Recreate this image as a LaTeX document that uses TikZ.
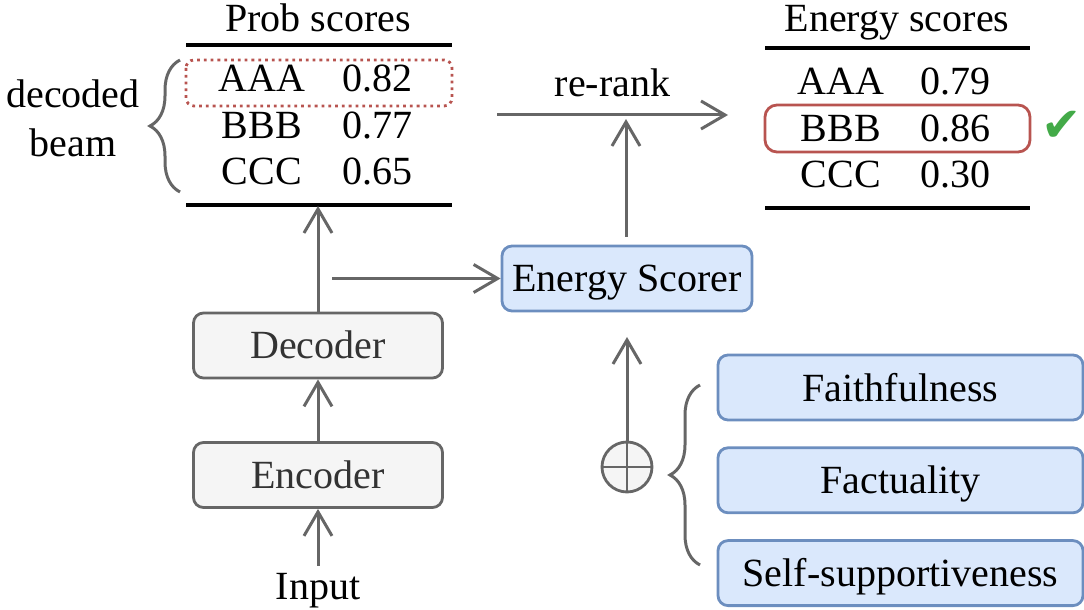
\documentclass[tikz,border=0pt]{standalone}
\usepackage{fontspec}
\setmainfont{Liberation Serif}
\newfontfamily\symfont{DejaVu Sans}
\usepackage{tikz}
\usetikzlibrary{arrows.meta,positioning,decorations.pathreplacing}
\definecolor{linegray}{HTML}{666666}
\definecolor{boxblue}{HTML}{DAE8FC}
\definecolor{edgeblue}{HTML}{6C8EBF}
\definecolor{boxgray}{HTML}{F5F5F5}
\definecolor{markred}{HTML}{B85450}
\definecolor{checkgreen}{RGB}{67,170,72}

\begin{document}
\begin{tikzpicture}[x=0.5pt, y=0.5pt, font=\fontsize{20}{24}\selectfont,
		flow/.style={draw=linegray, line width=1.5pt, -{Straight Barb[length=12pt,width=14pt]}},
		cell/.style={inner sep=0pt, text height=13.5pt, text depth=0pt},
		grayblock/.style={draw=linegray, fill=boxgray, line width=1.4pt, rounded corners=5pt,
			minimum width=124.5pt, minimum height=32.5pt, text height=13.5pt, text depth=0pt, text=black!80},
		blueblock/.style={draw=edgeblue, fill=boxblue, line width=1.4pt, rounded corners=5pt,
			minimum height=32.5pt, text height=13.5pt, text depth=0pt},
		rule/.style={line width=1.6pt},
		brace/.style={draw=linegray, line width=1.5pt, decorate, decoration={brace, amplitude=15pt}}]
	\useasboundingbox (0,0) rectangle (1084,-610);

	% prob scores table
	\node[anchor=base] (ptitle) at (318,-32) {Prob scores};
	\draw[rule] (186,-45) -- (452,-45);
	\draw[rule] (186,-205) -- (452,-205);
	\node[cell] (pa) at (262,-78.5) {AAA};
	\node[cell] (pb) at (262,-125) {BBB};
	\node[cell] (pc) at (262,-171) {CCC};
	\node[cell] (pa2) at (377,-78.5) {0.82};
	\node[cell] (pb2) at (377,-125) {0.77};
	\node[cell] (pc2) at (377,-171) {0.65};
	\draw[markred, line width=1.4pt, dotted, rounded corners=4pt] (186,-60) rectangle (452,-106);

	% decoded beam
	\node[anchor=base] (beam1) at (73,-108) {decoded};
	\node[anchor=base] (beam2) at (73,-157) {beam};
	\draw[brace] (180,-192) -- (180,-60);

	% energy scores table
	\node[anchor=base] (etitle) at (897,-32) {Energy scores};
	\draw[rule] (765,-48) -- (1030,-48);
	\draw[rule] (765,-208) -- (1030,-208);
	\node[cell] (ea) at (841,-81) {AAA};
	\node[cell] (eb) at (841,-128.5) {BBB};
	\node[cell] (ec) at (841,-174) {CCC};
	\node[cell] (ea2) at (955,-81) {0.79};
	\node[cell] (eb2) at (955,-128.5) {0.86};
	\node[cell] (ec2) at (955,-174) {0.30};
	\draw[markred, line width=1.4pt, rounded corners=6pt] (765,-105) rectangle (1030,-152);
	\node[text=checkgreen, font=\symfont\fontsize{24}{24}\selectfont] (check) at (1062,-126) {✔};

	% model
	\node[grayblock] (enc) at (318,-475) {Encoder};
	\node[grayblock] (dec) at (318,-345.5) {Decoder};
	\node[anchor=base] (input) at (318,-599) {Input};
	\node[blueblock, minimum width=125pt] (scorer) at (627,-278.5) {Energy Scorer};

	% criteria
	\node[blueblock, minimum width=182.5pt] (faith) at (900.5,-387.5) {Faithfulness};
	\node[blueblock, minimum width=182.5pt, below=12.5pt of faith] (fact) {Factuality};
	\node[blueblock, minimum width=182.5pt, below=12.5pt of fact] (self) {Self-supportiveness};
	\node[circle, draw=linegray, fill=boxgray, line width=1.4pt, minimum size=25pt, inner sep=0pt] (sum) at (627,-467) {};
	\draw[linegray, line width=1.4pt] (sum.north) -- (sum.south) (sum.west) -- (sum.east);
	\draw[brace] (700,-565) -- (700,-385);

	% connectors
	\coordinate (ptable) at (318,-206);
	\coordinate (tap) at (332,-278.5);
	\coordinate (rank0) at (497,-115);
	\coordinate (rank1) at (728,-115);
	\coordinate (scoreout) at (626,-237);
	\coordinate (rankin) at (626,-119);
	\coordinate (scorein) at (627,-337);
	\draw[flow] (input) -- (enc);
	\draw[flow] (enc) -- (dec);
	\draw[flow] (dec) -- (ptable);
	\draw[flow] (tap) -- (scorer);
	\draw[flow] (sum) -- (scorein);
	\draw[flow] (scoreout) -- (rankin);
	\draw[flow] (rank0) -- node[above=5pt, text=black] (rerank) {re-rank} (rank1);
\end{tikzpicture}
\end{document}
